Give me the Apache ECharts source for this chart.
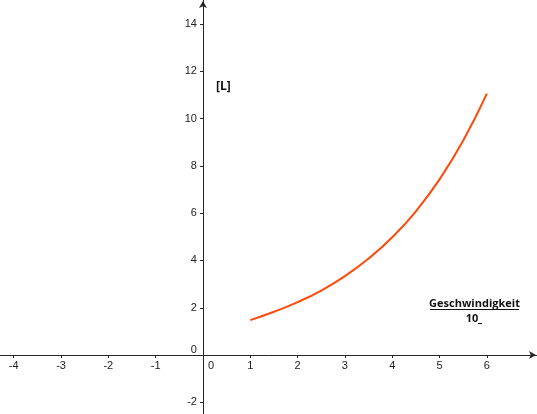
<!DOCTYPE html>
<html>
<head>
<meta charset="utf-8">
<script src="https://cdn.jsdelivr.net/npm/echarts@6/dist/echarts.min.js"></script>
<style>html,body{margin:0;padding:0;background:#fff}#c{width:537px;height:414px}</style>
</head>
<body>
<div id="c"></div>
<script>
// Data
const curveX = [1, 1.5, 2, 2.5, 3, 3.5, 4, 4.5, 5, 5.5, 6];
const curveY = [1.48, 1.83, 2.24, 2.73, 3.34, 4.08, 4.98, 6.08, 7.43, 9.07, 11.05];
const xTicks = [-4, -3, -2, -1, 1, 2, 3, 4, 5, 6];
const xLabels = [-4, -3, -2, -1, 0, 1, 2, 3, 4, 5, 6];
const yTicks = [-2, 2, 4, 6, 8, 10, 12, 14];
const yLabels = [-2, 0, 2, 4, 6, 8, 10, 12, 14];
const yUnitLabel = '[L]';
const xUnitLabel = 'Geschwindigkeit';
const xUnitDenom = '10';

const W = 537, H = 414;
const xMin = -4.29, xMax = 7.06, yMin = -2.49, yMax = 15.01;
// move axes so they cross at the origin (axis labels follow them)
const xAxisOffset = -H * (0 - yMin) / (yMax - yMin);
const yAxisOffset = -W * (0 - xMin) / (xMax - xMin);

const chart = echarts.init(document.getElementById('c'), null, {renderer: 'canvas'});
const axisColor = '#262626';
const labelFont = {fontFamily: 'Liberation Sans, Arial, sans-serif', fontSize: 11, color: '#222'};
const noteFont = '"Open Sans", sans-serif';

chart.setOption({
  animation: false,
  backgroundColor: '#fff',
  grid: {left: 0, right: 0, top: 0, bottom: 0, containLabel: false, outerBoundsMode: 'none'},
  xAxis: {
    type: 'value', min: xMin, max: xMax, position: 'bottom', offset: xAxisOffset,
    axisLine: {show: true, onZero: false, lineStyle: {color: axisColor, width: 1},
      symbol: ['none', 'arrow'], symbolSize: [6, 7], symbolOffset: [0, -1]},
    axisTick: {show: true, length: 3, customValues: xTicks, lineStyle: {color: axisColor}},
    axisLabel: Object.assign({show: true, margin: 5, customValues: xLabels,
      formatter: v => v === 0 ? '{z|0}' : String(v),
      rich: {z: Object.assign({padding: [0, 0, 0, 16]}, labelFont)}}, labelFont),
    splitLine: {show: false}
  },
  yAxis: {
    type: 'value', min: yMin, max: yMax, position: 'left', offset: yAxisOffset,
    axisLine: {show: true, onZero: false, lineStyle: {color: axisColor, width: 1},
      symbol: ['none', 'arrow'], symbolSize: [6, 7], symbolOffset: [0, -1]},
    axisTick: {show: true, length: 3, customValues: yTicks, lineStyle: {color: axisColor}},
    axisLabel: Object.assign({show: true, margin: 6, customValues: yLabels,
      formatter: v => v === 0 ? '{z|0}' : String(v),
      rich: {z: Object.assign({padding: [0, 0, 10, 0]}, labelFont)}}, labelFont),
    splitLine: {show: false}
  },
  series: [{
    type: 'line',
    data: curveX.map((x, i) => [x, curveY[i]]),
    smooth: true,
    showSymbol: false,
    lineStyle: {color: '#ff4a0a', width: 2},
    clip: false
  }],
  graphic: [
    {type: 'text', x: 216, y: 87,
      style: {text: yUnitLabel, font: 'bold 12px ' + noteFont, fill: '#111', align: 'left', verticalAlign: 'middle'}},
    {type: 'text', x: 474.5, y: 303.5,
      style: {text: xUnitLabel, font: 'bold 11px ' + noteFont, fill: '#111', align: 'center', verticalAlign: 'middle'}},
    {type: 'line', shape: {x1: 430, y1: 309.5, x2: 519, y2: 309.5}, style: {stroke: '#111', lineWidth: 1}},
    {type: 'text', x: 472, y: 319,
      style: {text: xUnitDenom, font: 'bold 11px ' + noteFont, fill: '#111', align: 'center', verticalAlign: 'middle'}},
    {type: 'line', shape: {x1: 478, y1: 323.5, x2: 482, y2: 323.5}, style: {stroke: '#111', lineWidth: 1}}
  ]
});
</script>
</body>
</html>
